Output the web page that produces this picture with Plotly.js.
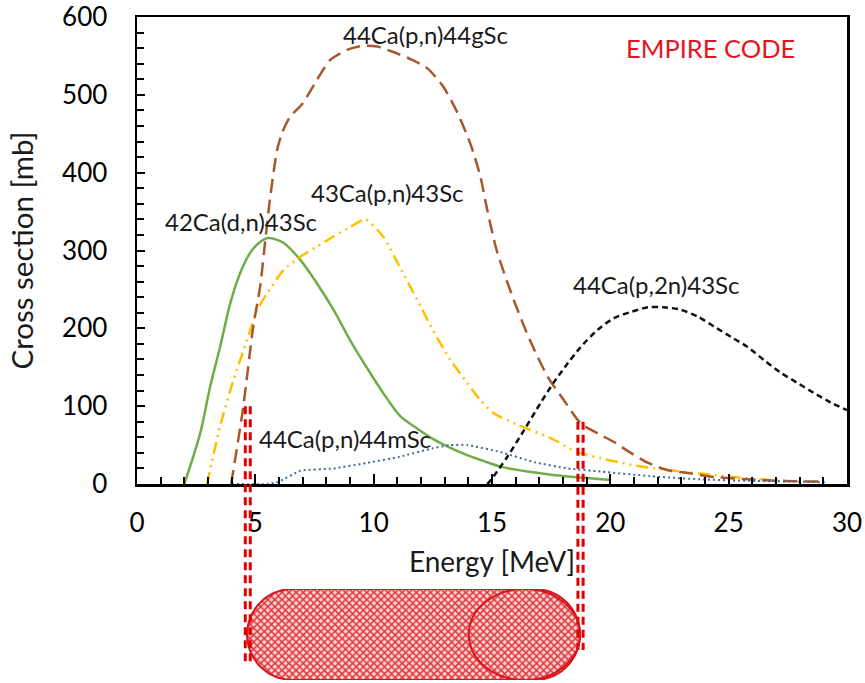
<!DOCTYPE html>
<html>
<head>
<meta charset="utf-8">
<script src="https://cdn.plot.ly/plotly-3.0.1.min.js"></script>
<style>html,body{margin:0;padding:0;background:#fff;}#chart{width:865px;height:683px;}</style>
</head>
<body>
<div id="chart"></div>
<script>
// ---- data ----
var energyDn43 = [2.0, 2.67, 3.09, 3.51, 3.94, 4.36, 4.78, 5.2, 5.55, 6.18, 6.9, 7.6, 8.3, 9.0, 9.7, 10.4, 11.1, 11.85, 12.5, 13.2, 13.95, 14.6, 15.4, 16.5, 17.5, 18.9, 20.0];
var xsDn43     = [0, 65, 125, 176, 232, 271, 297, 311, 316, 310, 288, 258, 224, 185, 150, 117, 88, 71, 58, 47, 37, 30, 22, 16, 12, 8, 5];

var energyPn43 = [2.96, 3.5, 4.07, 4.65, 5.07, 5.5, 6.2, 6.9, 7.6, 8.3, 9.0, 9.65, 10.4, 11.1, 11.85, 12.5, 13.25, 13.95, 14.5, 15.07, 16.08, 17.48, 18.6, 19.6, 21.0, 22.4, 24.25, 25.9, 27.5];
var xsPn43     = [0, 73, 133, 185, 223, 245, 275, 292, 305, 318, 330, 340, 318, 279, 236, 198, 159, 130, 108, 91, 76, 59, 41, 33, 24, 18, 12, 7, 4];

var energyPn44g = [3.98, 4.49, 4.91, 5.2, 5.42, 5.63, 5.92, 6.13, 6.47, 7.0, 7.6, 8.17, 8.9, 9.56, 10.15, 10.83, 11.55, 12.27, 12.95, 13.54, 14.1, 14.5, 14.8, 15.2, 15.9, 16.6, 17.35, 18.03, 18.75, 19.46, 20.15, 20.86, 21.6, 22.4, 23.3, 24.4, 25.8, 27.2, 29.0];
var xsPn44g     = [0, 99, 202, 253, 313, 369, 429, 451, 472, 489, 519, 545, 558, 563, 562, 555, 546, 534, 510, 477, 436, 396, 352, 300, 238, 185, 138, 108, 78, 65, 54, 40, 27, 18, 14, 9, 6, 4, 3];

var energyP2n43 = [14.8, 14.95, 15.65, 16.35, 17.05, 17.6, 18.2, 18.75, 19.46, 20.15, 20.86, 21.6, 22.25, 22.97, 23.7, 24.4, 25.1, 25.8, 26.5, 27.2, 27.9, 28.6, 29.3, 30.0];
var xsP2n43     = [0, 5, 35, 69, 104, 130, 155, 176, 198, 213, 221, 227, 227, 224, 215, 202, 189, 176, 159, 143, 130, 117, 105, 95];

var energyPn44m = [4.0, 5.5, 6.0, 6.9, 8.3, 9.7, 11.1, 12.5, 13.25, 13.95, 15.36, 16.8, 18.2, 19.6, 21.7, 23.8, 25.9, 28.0, 29.2];
var xsPn44m     = [0, 0, 3, 17, 20, 27, 35, 46, 50, 50, 41, 28, 20, 16, 10, 6, 4, 3, 2];

var seriesNames = ["42Ca(d,n)43Sc", "43Ca(p,n)43Sc", "44Ca(p,n)44gSc", "44Ca(p,2n)43Sc", "44Ca(p,n)44mSc"];
var xTickVals = [0, 5, 10, 15, 20, 25, 30];
var yTickVals = [0, 100, 200, 300, 400, 500, 600];

// energy window of the target (MeV) and where its markers end (mb)
var windowE = [4.68, 18.74];
var windowTopXs = [100, 80];
var circleE = [14.02, 18.72];

// ---- build ----
var font = "Lato, 'Open Sans', sans-serif";
var traces = [
  {x: energyDn43, y: xsDn43, name: seriesNames[0], mode: "lines",
   line: {color: "#70AD47", width: 2.5, shape: "spline", smoothing: 0.8}},
  {x: energyPn43, y: xsPn43, name: seriesNames[1], mode: "lines",
   line: {color: "#FFC000", width: 2.5, dash: "12px,5px,2px,5px,2px,5px", shape: "spline", smoothing: 0.6}},
  {x: energyPn44g, y: xsPn44g, name: seriesNames[2], mode: "lines",
   line: {color: "#A9572A", width: 2.5, dash: "14px,7px", shape: "spline", smoothing: 0.7}},
  {x: energyP2n43, y: xsP2n43, name: seriesNames[3], mode: "lines",
   line: {color: "#111111", width: 2.5, dash: "6px,4px", shape: "spline", smoothing: 0.8}},
  {x: energyPn44m, y: xsPn44m, name: seriesNames[4], mode: "lines",
   line: {color: "#3F6D9E", width: 2, dash: "2px,3px", shape: "spline", smoothing: 0.5}}
];

// capsule (target) outline on a lower strip axis
var pxPerMeV = 710 / 30;
var capR = 45.5 / pxPerMeV; // horizontal radius in MeV
var cx0 = windowE[0] + capR - 0.03, cx1 = windowE[1] - capR - 0.02;
var capX = [], capY = [];
for (var i = 0; i <= 40; i++) { var a = Math.PI / 2 + Math.PI * i / 40; capX.push(cx0 + capR * Math.cos(a)); capY.push(0.5 + 0.5 * Math.sin(a)); }
for (var j = 0; j <= 40; j++) { var b = -Math.PI / 2 + Math.PI * j / 40; capX.push(cx1 + capR * Math.cos(b)); capY.push(0.5 + 0.5 * Math.sin(b)); }
capX.push(capX[0]); capY.push(capY[0]);
traces.push({x: capX, y: capY, xaxis: "x", yaxis: "y2", mode: "lines", fill: "toself",
  line: {color: "#D8141C", width: 2},
  fillcolor: "rgba(0,0,0,0)",
  fillpattern: {shape: "x", fgcolor: "#E2363B", bgcolor: "#F9D4D4", size: 5, solidity: 0.5},
  hoverinfo: "skip", showlegend: false});

var H = 683, T = 17;
function paperY(py) { return (H - py) / (H - T); }

var shapes = [];
[[-0.105, 0.105], [-0.11, 0.11]].forEach(function (offs, k) {
  var yTop = paperY(484 - windowTopXs[k] * 467 / 600);
  var yBot = k === 0 ? paperY(665) : paperY(650);
  offs.forEach(function (d) {
    shapes.push({type: "line", xref: "x", yref: "paper", x0: windowE[k] + d, x1: windowE[k] + d,
      y0: yTop, y1: yBot, line: {color: "#E00000", width: 3, dash: "8px,5px"}});
  });
});
shapes.push({type: "circle", xref: "x", yref: "y2", x0: circleE[0], x1: circleE[1], y0: 0, y1: 1,
  line: {color: "#D8141C", width: 2}});

var labelFont = {family: font, size: 24, color: "#1a1a1a"};
var annotations = [
  {x: 12.17, y: 577, text: seriesNames[2]},
  {x: 10.6, y: 374, text: seriesNames[1]},
  {x: 4.4, y: 337, text: seriesNames[0]},
  {x: 8.79, y: 59, text: seriesNames[4]},
  {x: 21.93, y: 256, text: seriesNames[3]}
].map(function (a) { return Object.assign({xref: "x", yref: "y", showarrow: false, font: labelFont, xanchor: "center", yanchor: "middle"}, a); });
annotations.push({x: 24.25, y: 560, xref: "x", yref: "y", text: "EMPIRE CODE", showarrow: false,
  font: {family: font, size: 25.5, color: "#E8141C"}, xanchor: "center", yanchor: "middle"});

var layout = {
  width: 865, height: 683,
  margin: {l: 137, r: 18, t: T, b: 0, pad: 0},
  paper_bgcolor: "#fff", plot_bgcolor: "#fff",
  font: {family: font, color: "#000"},
  showlegend: false,
  xaxis: {range: [0, 30], anchor: "y", showline: true, mirror: true, linecolor: "#000", linewidth: 2.5,
    showgrid: false, zeroline: false, ticks: "inside", ticklen: 10, tickwidth: 2, tickcolor: "#000",
    tickvals: xTickVals, tickfont: {size: 26, color: "#000"}, ticklabelstandoff: 14,
    minor: {dtick: 1, ticks: "inside", ticklen: 7, tickwidth: 2, tickcolor: "#000", showgrid: false},
    title: {text: "Energy [MeV]", font: {size: 28, color: "#1a1a1a"}, standoff: 16}, automargin: false},
  yaxis: {range: [0, 600], domain: [paperY(484), 1], showline: true, mirror: true, linecolor: "#000", linewidth: 2.5,
    showgrid: false, zeroline: false, ticks: "inside", ticklen: 8, tickwidth: 2, tickcolor: "#000",
    tickvals: yTickVals, tickfont: {size: 26, color: "#000"}, ticklabelstandoff: 22,
    minor: {dtick: 20, ticks: "inside", ticklen: 7, tickwidth: 2, tickcolor: "#000", showgrid: false},
    title: {text: "Cross section [mb]", font: {size: 29.5, color: "#1a1a1a"}, standoff: 20}, automargin: false},
  yaxis2: {domain: [paperY(680), paperY(589)], range: [0, 1], visible: false, fixedrange: true},
  shapes: shapes,
  annotations: annotations
};

Plotly.newPlot("chart", traces, layout, {staticPlot: true, displayModeBar: false});
</script>
</body>
</html>
